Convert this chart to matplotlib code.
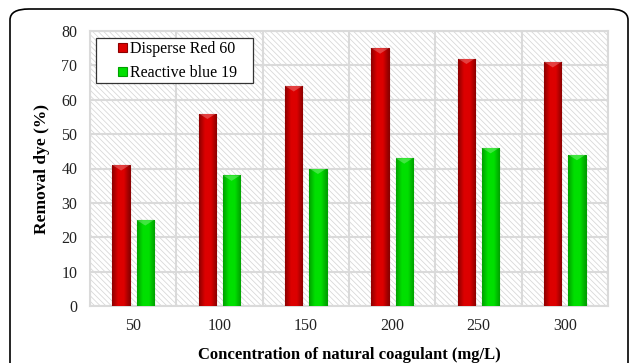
import numpy as np
import matplotlib
matplotlib.use("Agg")
import matplotlib.pyplot as plt
from matplotlib.patches import FancyBboxPatch, Rectangle

concentrations = ["50", "100", "150", "200", "250", "300"]
disperse_red = [41, 56, 64, 75, 72, 71]
reactive_blue = [25, 38, 40, 43, 46, 44]
series_names = ["Disperse Red 60", "Reactive blue 19"]

plt.rcParams["font.family"] = ["Liberation Serif", "DejaVu Serif"]
plt.rcParams["hatch.color"] = "#d6d6d6"
plt.rcParams["hatch.linewidth"] = 0.55

fig = plt.figure(figsize=(6.3, 3.63), dpi=100)

# rounded outer frame
frame = FancyBboxPatch((10 / 630, -0.2), 618 / 630, (363 - 9) / 363 + 0.2,
                       boxstyle="round,pad=0,rounding_size=0.03",
                       transform=fig.transFigure, fill=False,
                       edgecolor="black", linewidth=1.2, clip_on=False)
fig.patches.append(frame)

ax = fig.add_axes([90 / 630, 57 / 363, 518 / 630, 275 / 363])
ax.set_facecolor("white")
ax.patch.set_hatch("\\\\\\\\\\\\")
ax.patch.set_edgecolor("#d6d6d6")

x = np.arange(len(concentrations))
width = 0.2
offset = 0.14


def gradient_bars(xs, values, edge, mid, label):
    bars = ax.bar(xs, values, width, color=mid, edgecolor=edge,
                  linewidth=0.8, label=label, zorder=3)
    cmap = matplotlib.colors.LinearSegmentedColormap.from_list(
        "g", [edge, mid, mid, edge])
    grad = np.linspace(0, 1, 64).reshape(1, -1)
    for b in bars:
        x0, w, h = b.get_x(), b.get_width(), b.get_height()
        im = ax.imshow(grad, extent=(x0, x0 + w, 0, h), aspect="auto",
                       cmap=cmap, zorder=3.5, interpolation="bicubic")
        im.set_clip_path(b)
        # lighter bevel at the top of the bar
        ax.fill([x0, x0 + w, x0 + w / 2], [h, h, h - 1.6],
                color="white", alpha=0.25, zorder=4, linewidth=0)
    return bars


gradient_bars(x - offset, disperse_red, "#8c0000", "#dd0000", series_names[0])
gradient_bars(x + offset, reactive_blue, "#00a000", "#00e000", series_names[1])

ax.set_xlim(-0.5, len(concentrations) - 0.5)
ax.set_ylim(0, 80)
ax.set_yticks(np.arange(0, 81, 10))
ax.set_xticks(x)
ax.set_xticklabels(concentrations)
ax.set_xticks(np.arange(-0.5, len(concentrations), 1), minor=True)

ax.grid(which="major", axis="y", color="#dadada", linewidth=1.5, zorder=1)
ax.grid(which="minor", axis="x", color="#dadada", linewidth=1.5, zorder=1)
ax.set_axisbelow(True)
ax.tick_params(which="both", length=0, labelsize=11.5, colors="#222222")
ax.tick_params(axis="x", pad=9)
ax.tick_params(axis="y", pad=9)
for s in ax.spines.values():
    s.set_color("#dadada")
    s.set_linewidth(1.5)

ax.set_ylabel("Removal dye (%)", fontsize=12.5, fontweight="bold", labelpad=8)
ax.set_xlabel("Concentration of natural coagulant (mg/L)", fontsize=12,
              fontweight="bold", labelpad=9)

# legend box drawn separately so its padding can be set freely
box = Rectangle((6 / 518, 223 / 275), 157 / 518, 45 / 275,
                transform=ax.transAxes, facecolor="white",
                edgecolor="#333333", linewidth=0.9, zorder=6)
ax.add_patch(box)
leg = ax.legend(loc="upper left", bbox_to_anchor=(28 / 518, 265 / 275),
                fontsize=11.5, frameon=False, handlelength=0.55,
                handleheight=0.55, handletextpad=0.2, borderpad=0,
                labelspacing=0.5, borderaxespad=0)
leg.set_zorder(7)

fig.savefig("out.png", dpi=100)
